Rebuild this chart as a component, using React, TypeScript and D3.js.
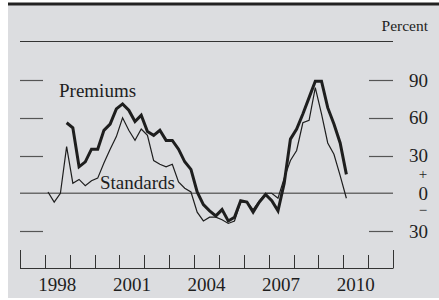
import React, { useEffect, useRef } from "react";
import * as d3 from "d3";

// Quarterly survey readings, net percent
const standardsStart = { year: 1998, quarter: 1 };
const standards = [
  1, -7, 0, 37,
  8, 11, 6, 10,
  12, 24, 35, 45,
  60, 50, 42, 51,
  46, 26, 23, 21,
  23, 9, 4, 1,
  -15, -22, -19, -19,
  -21, -24, -22, -7,
  -7, -13, -6, 0,
  0, -4, 12, 26,
  34, 56, 58, 84,
  63, 40, 31, 14,
  -4,
];

const premiumsStart = { year: 1998, quarter: 4 };
const premiums = [
  56,
  52, 21, 25, 35,
  35, 50, 55, 67,
  71, 66, 57, 62,
  49, 46, 50, 42,
  42, 35, 25, 19,
  1, -9, -14, -18,
  -13, -22, -19, -6,
  -7, -15, -7, -1,
  -6, -14, 8, 43,
  51, 63, 76, 89,
  89, 68, 55, 40,
  15,
];

const yearLabels = [1998, 2001, 2004, 2007, 2010];
const yTicks = [-30, 0, 30, 60, 90];
const yTickLabels = ["30", "0", "30", "60", "90"];

const W = 439,
  H = 300;

// turn a series into {t, v} points, t = fractional year at mid-quarter
const toPoints = (start, values) =>
  values.map((v, i) => {
    const q = start.quarter - 1 + i;
    return { t: start.year + Math.floor(q / 4) + ((q % 4) + 0.5) / 4, v };
  });

const App = () => {
  const ref = useRef(null);

  useEffect(() => {
    const svg = d3.select(ref.current);
    svg.selectAll("*").remove();

    const x = d3.scaleLinear().domain([1997, 2012]).range([20, 393]);
    const y = d3.scaleLinear().domain([-30, 90]).range([231, 80]);
    const serif = "'Liberation Serif', 'Times New Roman', serif";
    const ink = "#1e1e1e";

    // panel
    svg.append("rect").attr("x", 0).attr("y", 0).attr("width", W).attr("height", H).attr("fill", "#fff");
    svg.append("rect").attr("x", 8).attr("y", 5).attr("width", W - 8).attr("height", 293).attr("fill", "#dcdde0");
    svg.append("rect").attr("x", 8).attr("y", 2.5).attr("width", W - 8).attr("height", 3).attr("fill", "#222");

    // top rule
    svg.append("line")
      .attr("x1", x(1997)).attr("x2", x(2012))
      .attr("y1", 41.5).attr("y2", 41.5)
      .attr("stroke", "#333").attr("stroke-width", 1);

    // y ticks both sides
    const g = svg.append("g");
    yTicks.forEach((t, i) => {
      if (t === 0) {
        g.append("line")
          .attr("x1", x(1997)).attr("x2", x(2012))
          .attr("y1", y(0)).attr("y2", y(0))
          .attr("stroke", "#6b6b6b").attr("stroke-width", 1.6);
      } else {
        [[20, 43], [369, 393]].forEach(([a, b]) => {
          g.append("line")
            .attr("x1", a).attr("x2", b)
            .attr("y1", Math.round(y(t)) + 0.5).attr("y2", Math.round(y(t)) + 0.5)
            .attr("stroke", "#555").attr("stroke-width", 1.2);
        });
      }
      g.append("text")
        .attr("x", 428).attr("y", y(t))
        .attr("dy", "0.35em")
        .attr("text-anchor", "end")
        .attr("font-family", serif).attr("font-size", 19)
        .attr("fill", ink)
        .text(yTickLabels[i]);
    });
    // sign markers around zero
    g.append("text").attr("x", 423).attr("y", y(0) - 20).attr("dy", "0.35em")
      .attr("text-anchor", "middle").attr("font-family", serif).attr("font-size", 15)
      .attr("fill", ink).text("+");
    g.append("text").attr("x", 423).attr("y", y(0) + 16).attr("dy", "0.35em")
      .attr("text-anchor", "middle").attr("font-family", serif).attr("font-size", 15)
      .attr("fill", ink).text("\u2212");

    svg.append("text")
      .attr("x", 428).attr("y", 31)
      .attr("text-anchor", "end")
      .attr("font-family", serif).attr("font-size", 15.5)
      .attr("fill", ink)
      .text("Percent");

    // x axis
    const axisY = 268.5;
    svg.append("line")
      .attr("x1", x(1997)).attr("x2", x(2012))
      .attr("y1", axisY).attr("y2", axisY)
      .attr("stroke", "#333").attr("stroke-width", 1);
    d3.range(1997, 2013).forEach((yr) => {
      const end = yr === 1997 || yr === 2012;
      svg.append("line")
        .attr("x1", Math.round(x(yr)) + 0.5).attr("x2", Math.round(x(yr)) + 0.5)
        .attr("y1", axisY).attr("y2", end ? 250 : 255)
        .attr("stroke", "#333").attr("stroke-width", 1);
    });
    yearLabels.forEach((yr) => {
      svg.append("text")
        .attr("x", x(yr + 0.5)).attr("y", 291)
        .attr("text-anchor", "middle")
        .attr("font-family", serif).attr("font-size", 19)
        .attr("fill", ink)
        .text(yr);
    });

    // series
    const line = d3.line().x((d) => x(d.t)).y((d) => y(d.v));

    svg.append("path")
      .datum(toPoints(standardsStart, standards))
      .attr("d", line)
      .attr("fill", "none")
      .attr("stroke", ink)
      .attr("stroke-width", 1.2)
      .attr("stroke-linejoin", "miter");

    svg.append("path")
      .datum(toPoints(premiumsStart, premiums))
      .attr("d", line)
      .attr("fill", "none")
      .attr("stroke", ink)
      .attr("stroke-width", 3)
      .attr("stroke-linejoin", "miter");

    // labels
    svg.append("text")
      .attr("x", 59).attr("y", 97)
      .attr("font-family", serif).attr("font-size", 19)
      .attr("fill", ink)
      .text("Premiums");
    svg.append("text")
      .attr("x", 100).attr("y", 189)
      .attr("font-family", serif).attr("font-size", 19)
      .attr("fill", ink)
      .text("Standards");
  }, []);

  return (
    <svg
      ref={ref}
      width={W}
      height={H}
      style={{ position: "absolute", left: 0, top: 0 }}
    />
  );
};

export default App;
